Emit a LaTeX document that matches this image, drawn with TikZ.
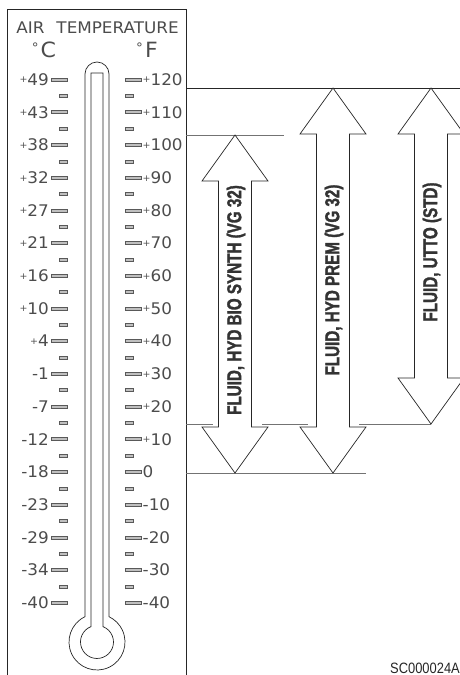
\documentclass[tikz,border=0pt]{standalone}
\usepackage{fontspec}
\usetikzlibrary{positioning}
\newfontfamily\scalefnt{DejaVu Sans}[FakeStretch=1.05]
\newfontfamily\fluidfnt{Liberation Sans}[FakeStretch=0.76, FakeBold=1.5]
\newfontfamily\codefnt{Liberation Sans}[FakeStretch=0.86]
\newcommand{\pl}{\raisebox{2.4pt}{\fontsize{9}{9}\selectfont+}}
\newcommand{\dg}{\raisebox{5.5pt}{\fontsize{13}{13}\selectfont°}\kern2pt}
\newcommand{\fluidarrow}[3]{%
  \draw[arr] (#1,#2) -- ++(33,46) -- ++(-16.5,0) -- (#1+16.5,#3-46) -- ++(16.5,0)
    -- (#1,#3) -- ++(-33,-46) -- ++(16.5,0) -- (#1-16.5,#2+46) -- ++(-16.5,0) -- cycle;}

\begin{document}
\begin{tikzpicture}[x=1pt, y=-1pt,
    frame/.style={draw=black!85, line width=0.8pt},
    tube/.style={draw=black!85, line width=0.7pt},
    tk/.style={draw=black!65, fill=black!25, line width=0.45pt},
    cel/.style={anchor=east, inner sep=0pt, text=black!70, font=\scalefnt\fontsize{16}{18}\selectfont},
    fah/.style={anchor=west, inner sep=0pt, text=black!70, font=\scalefnt\fontsize{16}{18}\selectfont},
    heading/.style={inner sep=0pt, text=black!70, font=\scalefnt\fontsize{16}{18}\selectfont},
    unit/.style={inner sep=0pt, text=black!70, font=\scalefnt\fontsize{21}{23}\selectfont},
    level/.style={draw=black!55, line width=0.8pt},
    arr/.style={draw=black!85, fill=white, line width=0.7pt, line join=miter},
    fluid/.style={rotate=90, inner sep=0pt, text=black!80, font=\fluidfnt\bfseries\fontsize{20}{23}\selectfont}]

    \useasboundingbox (0,0) rectangle (460,675);
    \clip (0,0) rectangle (460,675);

    \draw[frame] (7,676) -- (7,9) -- (186,9) -- (186,676);

    \node[heading] (title) at (97.5,27.5) {AIR\hspace{12pt}TEMPERATURE};
    \node[unit] (degc) at (44,50) {\dg C};
    \node[unit] (degf) at (147,50) {\dg F};

    \draw[tube] (85,74) -- (85,616.7) arc[start angle=244.6, end angle=-64.6, radius=28]
      -- (109,74) arc[start angle=0, end angle=-180, radius=12] -- cycle;
    \draw[tube] (91,73) -- (91,626.6) arc[start angle=248.7, end angle=-68.7, radius=16.5]
      -- (103,73) -- cycle;

    \foreach \i in {0,...,16} {
      \path[tk] (51,{79.5+32.7*\i-1.5}) rectangle (67,{79.5+32.7*\i+1.5});
      \path[tk] (125,{79.5+32.7*\i-1.5}) rectangle (141,{79.5+32.7*\i+1.5});
    }
    \foreach \i in {0,...,15} {
      \path[tk] (59,{95.85+32.7*\i-1.5}) rectangle (67,{95.85+32.7*\i+1.5});
      \path[tk] (125,{95.85+32.7*\i-1.5}) rectangle (133,{95.85+32.7*\i+1.5});
    }

    \foreach \c/\f [count=\i from 0] in {\pl49/\pl120, \pl43/\pl110, \pl38/\pl100,
        \pl32/\pl90, \pl27/\pl80, \pl21/\pl70, \pl16/\pl60, \pl10/\pl50, \pl4/\pl40,
        -1/\pl30, -7/\pl20, -12/\pl10, -18/0, -23/-10, -29/-20, -34/-30, -40/-40} {
      \node[cel] (c\i) at (49,{79.5+32.7*\i}) {\c};
      \node[fah] (f\i) at (142.5,{79.5+32.7*\i}) {\f};
    }

    \draw[black!85, line width=0.8pt] (186,88) -- (460,88);
    \draw[level] (186,135) -- (284,135);
    \draw[level] (186,424) -- (213,424);
    \draw[level] (262,424) -- (308,424);
    \draw[level] (359,424) -- (431,424);
    \draw[level] (186,473) -- (366,473);

    \fluidarrow{235}{135}{473}
    \fluidarrow{333}{88}{473}
    \fluidarrow{431}{88}{424}

    \node[fluid] (bio) at (236,300) {FLUID, HYD BIO SYNTH (VG 32)};
    \node[fluid] (prem) at (334,280) {FLUID, HYD PREM (VG 32)};
    \node[fluid] (utto) at (432,252) {FLUID, UTTO (STD)};

    \node[anchor=base east, inner sep=0pt, text=black!85, font=\codefnt\fontsize{15}{17}\selectfont] (code) at (460,673) {SC000024A};
  \end{tikzpicture}
\end{document}
